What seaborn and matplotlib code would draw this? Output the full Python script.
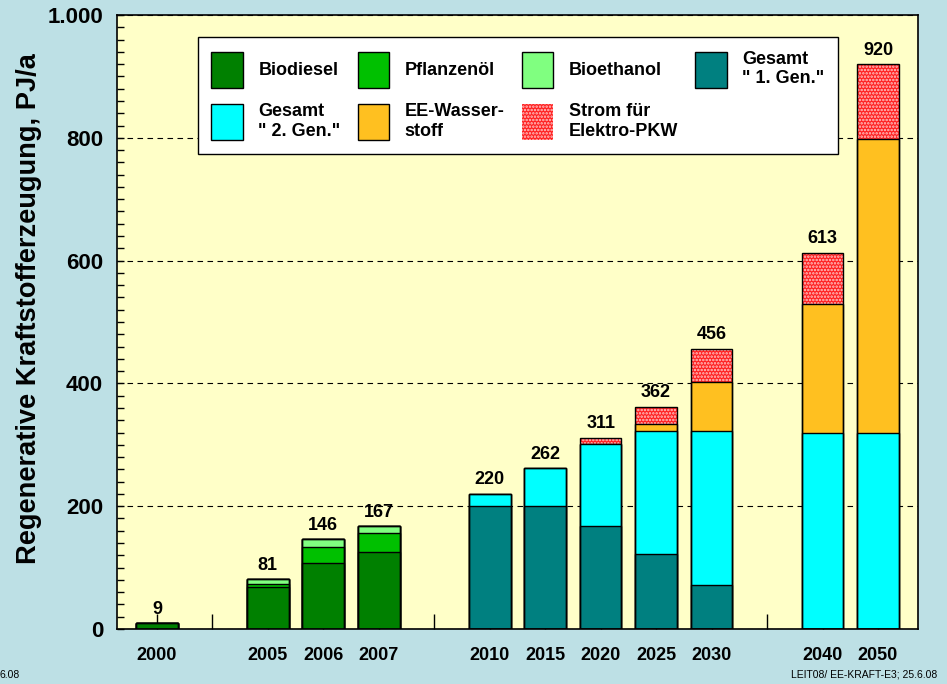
import pandas as pd
import seaborn as sns
import matplotlib.pyplot as plt
from matplotlib.patches import Patch
from matplotlib.ticker import MultipleLocator

plt.rcParams['font.family'] = ['Liberation Sans', 'DejaVu Sans']
plt.rcParams['hatch.linewidth'] = 1.2

# Daten (PJ/a)
jahre = ['2000', '2005', '2006', '2007', '2010', '2015', '2020', '2025', '2030', '2040', '2050']
slots = ['2000', 'l1', '2005', '2006', '2007', 'l2', '2010', '2015', '2020', '2025', '2030', 'l3', '2040', '2050']
biodiesel = [9, 68, 107, 125, 0, 0, 0, 0, 0, 0, 0]
pflanzenoel = [0, 6, 26, 31, 0, 0, 0, 0, 0, 0, 0]
bioethanol = [0, 7, 13, 11, 0, 0, 0, 0, 0, 0, 0]
gen1 = [0, 0, 0, 0, 200, 200, 167, 122, 72, 0, 0]
gen2 = [0, 0, 0, 0, 20, 62, 134, 200, 250, 320, 320]
wasserstoff = [0, 0, 0, 0, 0, 0, 0, 12, 81, 210, 478]
strom = [0, 0, 0, 0, 0, 0, 10, 28, 53, 83, 122]
gesamt = [9, 81, 146, 167, 220, 262, 311, 362, 456, 613, 920]

reihen = ['Biodiesel', 'Pflanzenöl', 'Bioethanol', 'Gesamt1', 'Gesamt2', 'Wasserstoff', 'Strom']
df = pd.DataFrame({'Jahr': jahre, 'Biodiesel': biodiesel, 'Pflanzenöl': pflanzenoel,
                   'Bioethanol': bioethanol, 'Gesamt1': gen1, 'Gesamt2': gen2,
                   'Wasserstoff': wasserstoff, 'Strom': strom})
cum = df[reihen].cumsum(axis=1)
cum['Jahr'] = df['Jahr']

farben = {'Biodiesel': '#008000', 'Pflanzenöl': '#00C000', 'Bioethanol': '#80FF80',
          'Gesamt1': '#008080', 'Gesamt2': '#00FFFF', 'Wasserstoff': '#FFC020',
          'Strom': '#FF2020'}

fig = plt.figure(figsize=(9.47, 6.84), dpi=100, facecolor='#BDE0E5')
ax = fig.add_axes([0.1235, 0.0804, 0.8458, 0.8977])
ax.set_facecolor('#FFFFC8')

# oberste Schicht (Strom) mit Punktraster
sns.barplot(data=cum, x='Jahr', y='Strom', order=slots, color=farben['Strom'],
            saturation=1, width=0.75, errorbar=None, hatch='.....',
            edgecolor='#FFC8C8', linewidth=0, ax=ax)

for r in reihen[-2::-1]:
    sns.barplot(data=cum, x='Jahr', y=r, order=slots, color=farben[r],
                saturation=1, width=0.75, errorbar=None,
                edgecolor='black', linewidth=1, ax=ax)

# Umriss der Gesamtbalken
sns.barplot(data=cum, x='Jahr', y='Strom', order=slots, fill=False,
            width=0.75, errorbar=None, edgecolor='black', linewidth=1, ax=ax)
ax.bar_label(ax.containers[-1], labels=[str(v) for v in gesamt], padding=4,
             fontsize=13, fontweight='bold')

ax.set_xlim(-0.72, 13.72)
ax.set_ylim(0, 1000)
ax.set_xticks(range(len(slots)))
ax.set_xticklabels([s if not s.startswith('l') else '' for s in slots],
                   fontsize=13, fontweight='bold')
ax.set_yticks([0, 200, 400, 600, 800, 1000])
ax.set_yticklabels(['0', '200', '400', '600', '800', '1.000'], fontsize=16, fontweight='bold')
ax.yaxis.set_minor_locator(MultipleLocator(20))
ax.tick_params(axis='y', which='both', direction='in', length=5, width=1, pad=10)
ax.tick_params(axis='x', direction='in', length=10.5, width=1, pad=13)

ax.set_axisbelow(True)
ax.yaxis.grid(True, which='major', linestyle=(0, (5, 4)), color='black', linewidth=0.8)
ax.xaxis.grid(False)

for s in ax.spines.values():
    s.set_color('black')
    s.set_linewidth(1.2)

ax.set_xlabel('')
ax.set_ylabel('Regenerative Kraftstofferzeugung, PJ/a', fontsize=19.6, fontweight='bold')
ax.yaxis.set_label_coords(-0.094, 0.522)

handles = [
    Patch(facecolor=farben['Biodiesel'], edgecolor='black'),
    Patch(facecolor=farben['Gesamt2'], edgecolor='black'),
    Patch(facecolor=farben['Pflanzenöl'], edgecolor='black'),
    Patch(facecolor=farben['Wasserstoff'], edgecolor='black'),
    Patch(facecolor=farben['Bioethanol'], edgecolor='black'),
    Patch(facecolor=farben['Strom'], edgecolor='#FFC8C8', hatch='.....', linewidth=0),
    Patch(facecolor=farben['Gesamt1'], edgecolor='black'),
]
labels = ['Biodiesel', 'Gesamt\n" 2. Gen."', 'Pflanzenöl', 'EE-Wasser-\nstoff',
          'Bioethanol', 'Strom für\nElektro-PKW', 'Gesamt\n" 1. Gen."']
leg = ax.legend(handles, labels, ncol=4, loc='upper left', bbox_to_anchor=(0.101, 0.964),
                borderaxespad=0, prop={'size': 13, 'weight': 'bold'},
                handlelength=1.75, handleheight=2.7, handletextpad=0.85,
                columnspacing=0.95, labelspacing=0.83, borderpad=0.75,
                fancybox=False, framealpha=1, edgecolor='black')
leg.get_frame().set_linewidth(1)

fig.text(0.99, 0.006, 'LEIT08/ EE-KRAFT-E3; 25.6.08', ha='right', va='bottom', fontsize=7.5)
fig.text(0.0, 0.006, '6.08', ha='left', va='bottom', fontsize=7.5)

fig.savefig('out.png', dpi=100, facecolor=fig.get_facecolor())
